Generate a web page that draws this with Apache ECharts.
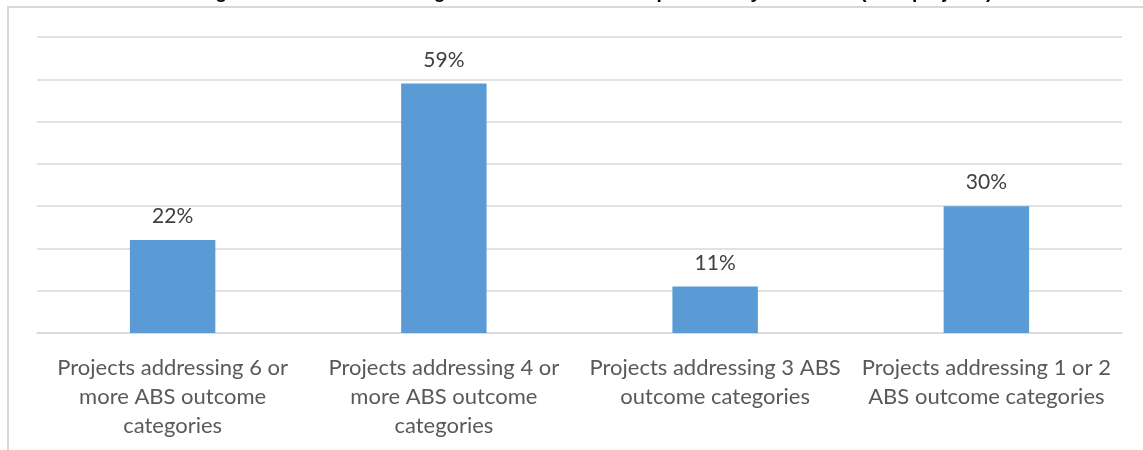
<!DOCTYPE html>
<html>
<head>
<meta charset="utf-8">
<title>ABS outcome categories</title>
<script src="https://cdn.jsdelivr.net/npm/echarts@6/dist/echarts.min.js"></script>
<style>
  html, body { margin: 0; padding: 0; background: #ffffff; }
  #chart { width: 1143px; height: 450px; }
</style>
</head>
<body>
<div id="chart"></div>
<script>
// Share of projects by number of ABS outcome categories addressed
const titleText = 'Coverage of ABS outcome categories addressed within portfolio by focal area (% of projects)';

const categories = [
  'Projects addressing 6 or\nmore ABS outcome\ncategories',
  'Projects addressing 4 or\nmore ABS outcome\ncategories',
  'Projects addressing 3 ABS\noutcome categories',
  'Projects addressing 1 or 2\nABS outcome categories'
];

const shares = [22, 59, 11, 30];

const axisMax = 70;
const axisStep = 10;

const chart = echarts.init(document.getElementById('chart'), null, { renderer: 'canvas' });

chart.setOption({
  animation: false,
  backgroundColor: '#ffffff',
  textStyle: { fontFamily: 'Lato, "Open Sans", sans-serif' },
  title: {
    text: titleText,
    left: 'center',
    top: -17,
    padding: 0,
    textStyle: {
      fontFamily: '"Liberation Sans", Arial, sans-serif',
      fontSize: 19,
      fontWeight: 'bold',
      color: '#000000'
    }
  },
  graphic: [{
    type: 'rect',
    silent: true,
    shape: { x: 8, y: 7, width: 1160, height: 480 },
    style: { fill: 'none', stroke: '#d9d9d9', lineWidth: 2 }
  }],
  grid: { left: 37, right: 21, top: 37, bottom: 117, containLabel: false },
  xAxis: {
    type: 'category',
    data: categories,
    axisLine: { show: true, lineStyle: { color: '#d9d9d9', width: 1.5 } },
    axisTick: { show: false },
    axisLabel: {
      interval: 0,
      margin: 20,
      color: '#595959',
      fontSize: 22,
      lineHeight: 29,
      align: 'center'
    }
  },
  yAxis: {
    type: 'value',
    min: 0,
    max: axisMax,
    interval: axisStep,
    axisLine: { show: false },
    axisTick: { show: false },
    axisLabel: { show: false },
    splitLine: { show: true, lineStyle: { color: '#d9d9d9', width: 1.5 } }
  },
  series: [{
    type: 'bar',
    data: shares,
    barWidth: '31.5%',
    itemStyle: { color: '#5b9bd5' },
    label: {
      show: true,
      position: 'top',
      distance: 13,
      color: '#404040',
      fontSize: 21,
      formatter: p => p.value + '%'
    }
  }]
});
</script>
</body>
</html>
